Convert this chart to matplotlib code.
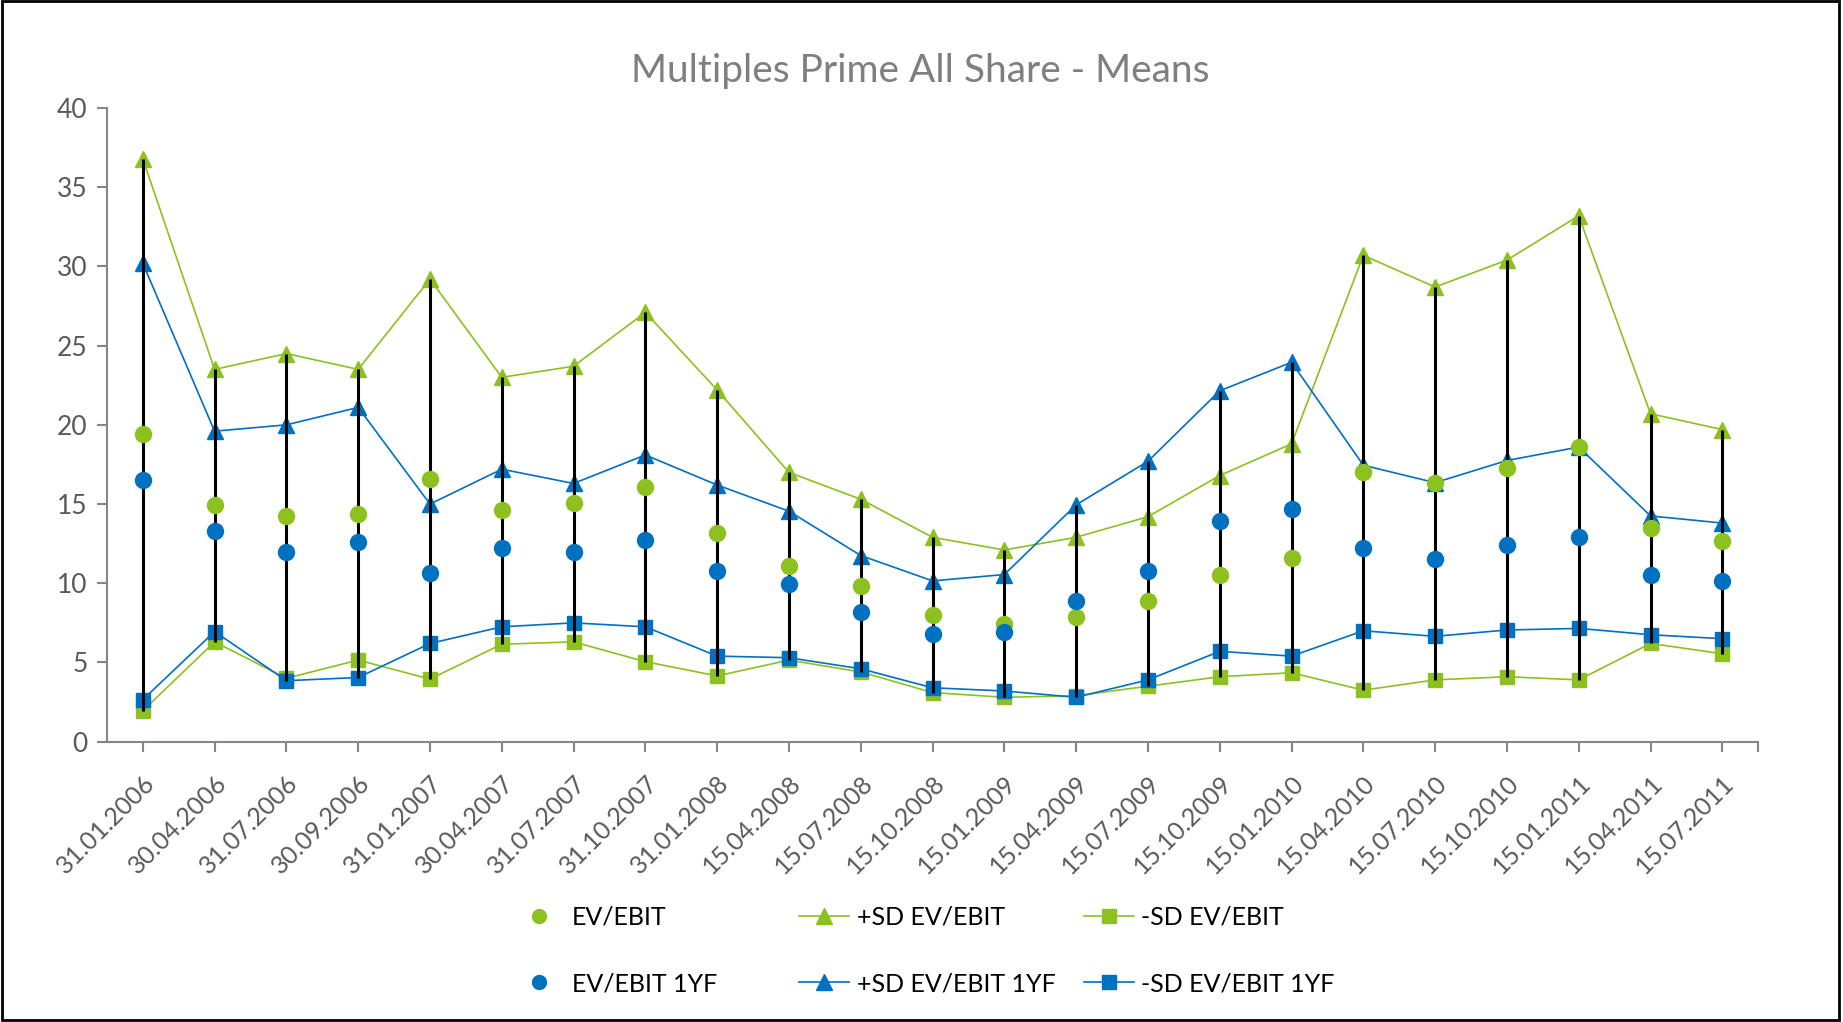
import numpy as np
import matplotlib
matplotlib.use('Agg')
import matplotlib.pyplot as plt
from matplotlib.lines import Line2D
from matplotlib.patches import Rectangle

dates = ['31.01.2006', '30.04.2006', '31.07.2006', '30.09.2006', '31.01.2007',
         '30.04.2007', '31.07.2007', '31.10.2007', '31.01.2008', '15.04.2008',
         '15.07.2008', '15.10.2008', '15.01.2009', '15.04.2009', '15.07.2009',
         '15.10.2009', '15.01.2010', '15.04.2010', '15.07.2010', '15.10.2010',
         '15.01.2011', '15.04.2011', '15.07.2011']

ev_ebit = [19.4, 14.95, 14.25, 14.35, 16.6, 14.6, 15.05, 16.1, 13.2, 11.1,
           9.85, 8.0, 7.45, 7.9, 8.9, 10.5, 11.6, 17.0, 16.3, 17.25,
           18.6, 13.5, 12.65]
ev_ebit_1yf = [16.5, 13.3, 11.95, 12.6, 10.65, 12.25, 11.95, 12.7, 10.8, 9.95,
               8.2, 6.8, 6.9, 8.9, 10.8, 13.95, 14.7, 12.2, 11.5, 12.4,
               12.9, 10.55, 10.15]
plus_sd = [36.8, 23.5, 24.5, 23.5, 29.2, 23.0, 23.7, 27.1, 22.2, 17.0,
           15.3, 12.9, 12.1, 12.9, 14.2, 16.8, 18.8, 30.7, 28.7, 30.4,
           33.2, 20.7, 19.7]
plus_sd_1yf = [30.2, 19.6, 20.0, 21.1, 15.0, 17.2, 16.3, 18.1, 16.2, 14.55,
               11.75, 10.15, 10.55, 14.95, 17.7, 22.15, 23.95, 17.45, 16.35, 17.75,
               18.6, 14.25, 13.8]
minus_sd = [1.95, 6.3, 4.0, 5.15, 3.95, 6.15, 6.3, 5.05, 4.15, 5.15,
            4.4, 3.1, 2.8, 2.9, 3.5, 4.1, 4.35, 3.25, 3.9, 4.1,
            3.9, 6.2, 5.55]
minus_sd_1yf = [2.65, 6.95, 3.85, 4.05, 6.2, 7.25, 7.5, 7.25, 5.4, 5.3,
                4.6, 3.4, 3.2, 2.8, 3.9, 5.7, 5.4, 7.0, 6.65, 7.05,
                7.15, 6.75, 6.5]

green = '#8cc11f'
blue = '#0070c0'
grey = '#868686'
txt = '#595959'

plt.rcParams['font.family'] = ['Lato', 'DejaVu Sans']

fig = plt.figure(figsize=(18.43, 10.22), dpi=100)
ax = fig.add_axes([0.058, 0.2743, 0.896, 0.62])

x = np.arange(len(dates))
allv = np.vstack([ev_ebit, ev_ebit_1yf, plus_sd, plus_sd_1yf, minus_sd, minus_sd_1yf])

ax.plot(x, plus_sd, color=green, lw=1.2, marker='^', ms=11, zorder=3)
ax.plot(x, plus_sd_1yf, color=blue, lw=1.2, marker='^', ms=11, zorder=3)
ax.plot(x, minus_sd, color=green, lw=1.2, marker='s', ms=10, zorder=3)
ax.plot(x, minus_sd_1yf, color=blue, lw=1.2, marker='s', ms=10, zorder=3)
ax.vlines(x, allv.min(axis=0), allv.max(axis=0), color='black', lw=2.2, zorder=4)
ax.plot(x, ev_ebit, ls='none', color=green, marker='o', ms=11.5, zorder=5)
ax.plot(x, ev_ebit_1yf, ls='none', color=blue, marker='o', ms=11.5, zorder=5)

ax.set_xlim(-0.5, len(dates) - 0.5)
ax.set_ylim(0, 40)
ax.set_yticks(range(0, 41, 5))
ax.set_xticks(x)
ax.set_xticks([len(dates) - 0.5], minor=True)
ax.set_xticklabels(dates, rotation=45, ha='right', rotation_mode='anchor')
ax.tick_params(axis='x', which='both', length=7, width=1.5, color=grey,
               labelsize=18, labelcolor=txt, pad=14)
ax.tick_params(axis='y', length=7, width=1.5, color=grey, labelsize=19,
               labelcolor=txt, pad=7)
for s in ['top', 'right']:
    ax.spines[s].set_visible(False)
for s in ['left', 'bottom']:
    ax.spines[s].set_color(grey)
    ax.spines[s].set_linewidth(1.5)

fig.text(0.4995, 0.931, 'Multiples Prime All Share - Means', ha='center', va='center',
         fontsize=28, color='#7f7f7f')

# legend, three columns placed by hand
cols = [
    [(Line2D([], [], ls='none', color=green, marker='o', ms=10), 'EV/EBIT'),
     (Line2D([], [], ls='none', color=blue, marker='o', ms=10), 'EV/EBIT 1YF')],
    [(Line2D([], [], color=green, lw=1.2, marker='^', ms=11), '+SD EV/EBIT'),
     (Line2D([], [], color=blue, lw=1.2, marker='^', ms=11), '+SD EV/EBIT 1YF')],
    [(Line2D([], [], color=green, lw=1.2, marker='s', ms=10), '-SD EV/EBIT'),
     (Line2D([], [], color=blue, lw=1.2, marker='s', ms=10), '-SD EV/EBIT 1YF')],
]
for xpos, col in zip([0.279, 0.4337, 0.588], cols):
    fig.legend([h for h, _ in col], [l for _, l in col], loc='upper left',
               bbox_to_anchor=(xpos, 0.114), bbox_transform=fig.transFigure,
               frameon=False, fontsize=18, handlelength=2.0, handletextpad=0.3,
               labelspacing=1.75, borderpad=0, borderaxespad=0)

fig.patches.append(Rectangle((0.001, 0.002), 0.997, 0.997, transform=fig.transFigure,
                             fill=False, edgecolor='black', lw=2))

fig.savefig('out.png', dpi=100)
